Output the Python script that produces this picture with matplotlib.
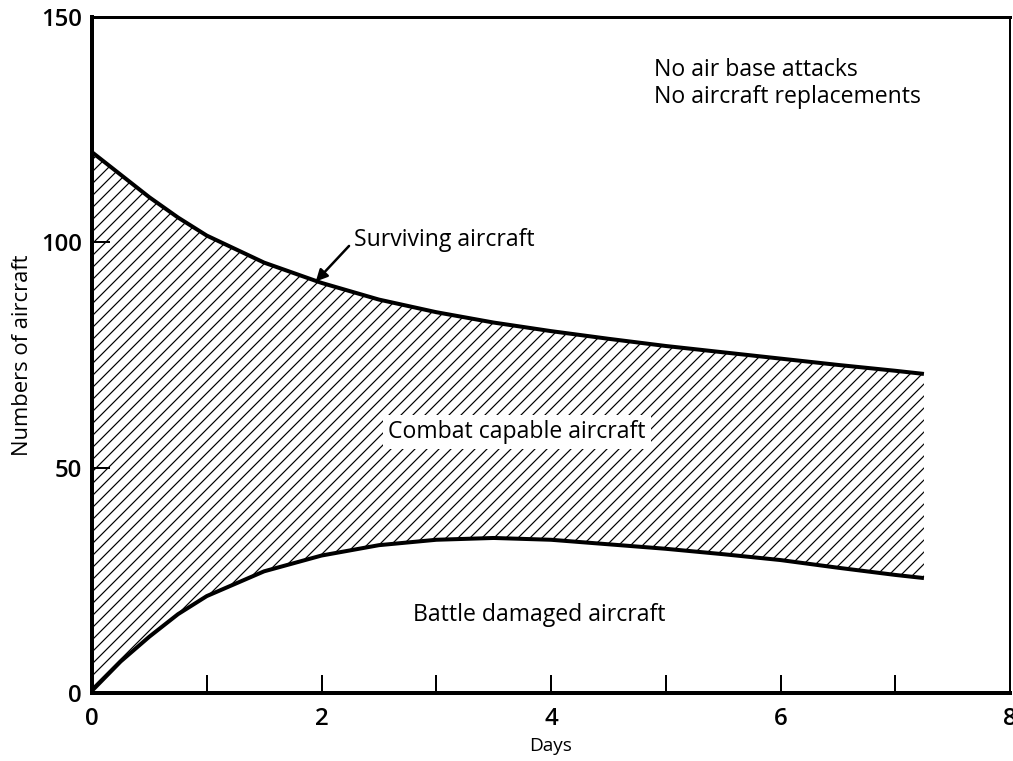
import numpy as np
import matplotlib
matplotlib.use("Agg")
import matplotlib.pyplot as plt

days = [0, 0.25, 0.5, 0.75, 1, 1.5, 2, 2.5, 3, 3.5, 4, 4.5, 5, 5.5, 6, 6.5, 7, 7.25]
surviving = [120, 115, 110, 105.5, 101.5, 95.5, 91, 87.3, 84.5, 82.2, 80.3, 78.6,
             77, 75.6, 74.2, 72.8, 71.5, 70.8]
damaged = [0.5, 7, 12.5, 17.5, 21.5, 27, 30.5, 32.8, 34, 34.4, 34, 33, 32, 30.8,
           29.5, 27.8, 26.2, 25.5]

x_ticks = [0, 2, 4, 6, 8]
x_minor = [1, 3, 5, 7]
y_ticks = [0, 50, 100, 150]

plt.rcParams['font.family'] = ['Open Sans', 'DejaVu Sans']
plt.rcParams['hatch.linewidth'] = 1.2

DPI = 72
fig = plt.figure(figsize=(1013 / DPI, 761 / DPI), dpi=DPI)
ax = fig.add_axes([92 / 1013, 1 - 693 / 761, (1010 - 92) / 1013, (693 - 17) / 761])

ax.fill_between(days, damaged, surviving, facecolor='none', edgecolor='black',
                hatch='//', linewidth=0)
ax.plot(days, surviving, color='black', lw=4, solid_capstyle='butt',
        solid_joinstyle='round')
ax.plot(days, damaged, color='black', lw=4, solid_capstyle='butt',
        solid_joinstyle='round')

ax.set_xlim(0, 8)
ax.set_ylim(0, 150)
ax.set_xticks(x_ticks)
ax.set_xticks(x_minor, minor=True)
ax.set_yticks(y_ticks)
ax.tick_params(axis='both', which='both', direction='in', length=18, width=2,
               labelsize=24)
ax.tick_params(axis='x', which='major', pad=14)
ax.tick_params(axis='y', which='major', pad=10)
for lab in ax.get_xticklabels() + ax.get_yticklabels():
    lab.set_fontweight('semibold')

for side, lw in [('left', 4), ('bottom', 4), ('top', 3), ('right', 2)]:
    ax.spines[side].set_linewidth(lw)

ax.set_xlabel('Days', fontsize=19, labelpad=6)
ax.set_ylabel('Numbers of aircraft', fontsize=22, labelpad=8)

ax.annotate('', xy=(1.95, 91.3), xytext=(2.24, 99.2),
            arrowprops=dict(arrowstyle='-|>', color='black', lw=2.5,
                            mutation_scale=24, shrinkA=0, shrinkB=0))
ax.text(2.28, 100.5, 'Surviving aircraft', fontsize=23, va='center', ha='left')
ax.text(2.58, 57.9, 'Combat capable aircraft', fontsize=23, va='center', ha='left',
        bbox=dict(facecolor='white', edgecolor='none', pad=5))
ax.text(2.8, 17.3, 'Battle damaged aircraft', fontsize=23, va='center', ha='left')
ax.text(4.9, 138.2, 'No air base attacks', fontsize=23, va='center', ha='left')
ax.text(4.9, 132.2, 'No aircraft replacements', fontsize=23, va='center', ha='left')

fig.savefig('out.png', dpi=DPI)
